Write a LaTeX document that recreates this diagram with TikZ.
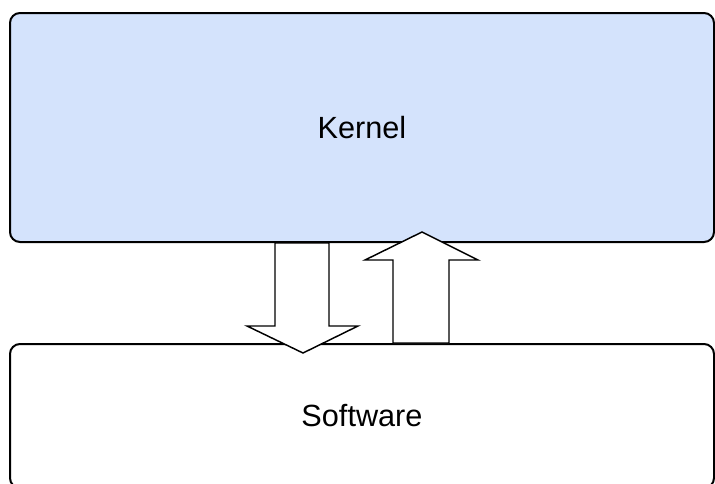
\documentclass[tikz,border=0pt]{standalone}
\usepackage{xcolor}
\usepackage{fontspec}
\setmainfont{Liberation Sans}
\usepackage{tikz}
\usetikzlibrary{calc}

\definecolor{kernelblue}{RGB}{212,227,252}

\begin{document}
\begin{tikzpicture}[x=0.75pt,y=0.75pt,yscale=-1,xscale=1,
  layerbox/.style={draw=black, line width=1.5pt, rounded corners=7.5pt, inner sep=0pt, minimum width=528pt, font=\fontsize{23}{28}\selectfont},
  blockarrow/.style={draw=black, fill=white, line width=1.1pt, line join=miter}]
\useasboundingbox (0,0) rectangle (715,483);

%Rounded Rect: kernel
\node [layerbox, fill=kernelblue, minimum height=171.75pt] (kernel) at (362,127.5) {Kernel};
%Rounded Rect: software
\node [layerbox, fill=white, minimum height=108pt] (software) at (362,416) {Software};

%Block arrow: kernel to software
\draw [blockarrow] ([xshift=-65.25pt]kernel.south) -- ++(0,83) -- ++(-28,0) -- ++(56,27) -- ++(55,-27) -- ++(-29,0) -- ([xshift=-24.75pt]kernel.south) -- cycle ;
%Block arrow: software to kernel
\draw [blockarrow] ([xshift=23.25pt]software.north) -- ++(0,-83) -- ++(-28,0) -- ++(57,-28) -- ++(56,28) -- ++(-29,0) -- ([xshift=65.25pt]software.north) -- cycle ;

\end{tikzpicture}
\end{document}
